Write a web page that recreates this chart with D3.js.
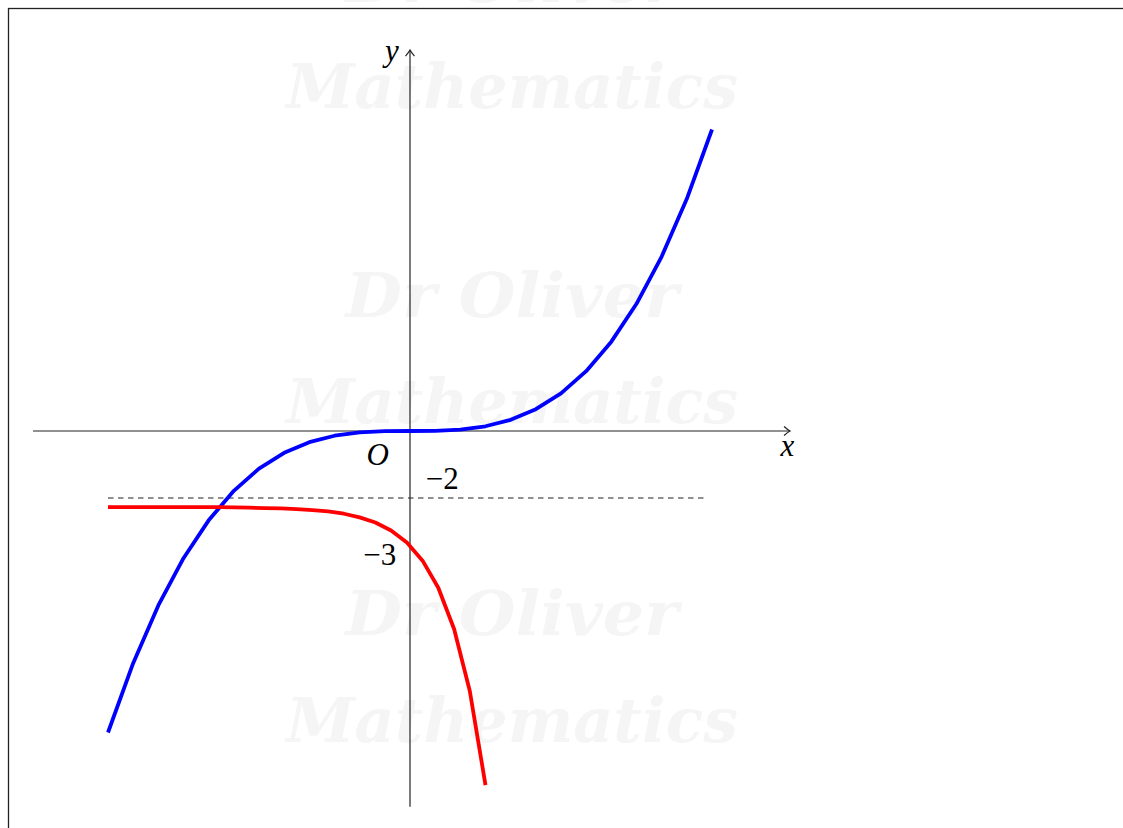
<!DOCTYPE html>
<html>
<head>
<meta charset="utf-8">
<script src="https://cdn.jsdelivr.net/npm/d3@7"></script>
<style>
  html, body { margin: 0; padding: 0; background: #ffffff; overflow: hidden; }
  svg { display: block; }
</style>
</head>
<body>
<script>
// ---- data ----
const blueX = [-3, -2.75, -2.5, -2.25, -2, -1.75, -1.5, -1.25, -1, -0.75, -0.5, -0.25, 0,
               0.25, 0.5, 0.75, 1, 1.25, 1.5, 1.75, 2, 2.25, 2.5, 2.75, 3];
const blueY = [-9, -6.932, -5.208, -3.797, -2.667, -1.786, -1.125, -0.651, -0.333, -0.141, -0.042, -0.005, 0,
               0.005, 0.042, 0.141, 0.333, 0.651, 1.125, 1.786, 2.667, 3.797, 5.208, 6.932, 9];
const redX = [-3, -2.844, -2.688, -2.531, -2.375, -2.219, -2.063, -1.906, -1.75, -1.594, -1.438, -1.281, -1.125,
              -0.969, -0.813, -0.656, -0.5, -0.344, -0.188, -0.031, 0.125, 0.281, 0.438, 0.594, 0.75];
const redY = [-2.27, -2.27, -2.27, -2.27, -2.27, -2.27, -2.27, -2.27, -2.28, -2.29, -2.30, -2.31, -2.33,
              -2.36, -2.40, -2.47, -2.58, -2.73, -2.97, -3.33, -3.87, -4.68, -5.91, -7.76, -10.57];
const dashedY = -2;
const dashedX = [-3, 2.95];
const xAxisExtent = [-3.745, 3.775];
const yAxisExtent = [-11.22, 11.37];
const labels = [
  { text: "y", x: -0.18, y: 11.04, italic: true },
  { text: "x", x: 3.75, y: -0.76, italic: true },
  { text: "O", x: -0.32, y: -1.01, italic: true },
  { text: "\u22122", x: 0.32, y: -1.73, italic: false },
  { text: "\u22123", x: -0.30, y: -4.00, italic: false }
];
const watermarkLines = ["Dr Oliver", "Mathematics", "Dr Oliver", "Mathematics", "Dr Oliver", "Mathematics"];

// ---- drawing ----
const W = 1123, H = 828;
const svg = d3.select("body").append("svg").attr("width", W).attr("height", H);

const x = d3.scaleLinear().domain([-3, 3]).range([108, 712]);
const y = d3.scaleLinear().domain([-9, 9]).range([732.5, 129.5]);

// watermark
const wmBase = [2, 108, 317, 423, 635, 742];
const wmWidth = { "Dr Oliver": 333, "Mathematics": 452 };
const wm = svg.append("g");
watermarkLines.forEach((t, i) => {
  wm.append("text")
    .attr("x", 512).attr("y", wmBase[i])
    .attr("text-anchor", "middle")
    .attr("font-family", "DejaVu Serif")
    .attr("font-style", "italic")
    .attr("font-weight", "bold")
    .attr("font-size", 62)
    .attr("textLength", wmWidth[t])
    .attr("lengthAdjust", "spacingAndGlyphs")
    .attr("fill", "#f5f5f5")
    .text(t);
});

// frame
svg.append("rect").attr("x", 8.5).attr("y", 8.5).attr("width", W + 20).attr("height", H + 20)
  .attr("fill", "none").attr("stroke", "#222").attr("stroke-width", 1.3);

// axes
const axisG = svg.append("g").attr("stroke", "#222").attr("stroke-width", 1.2).attr("fill", "none");
axisG.append("line")
  .attr("x1", x(xAxisExtent[0])).attr("x2", x(xAxisExtent[1]))
  .attr("y1", y(0)).attr("y2", y(0));
axisG.append("line")
  .attr("x1", x(0)).attr("x2", x(0))
  .attr("y1", y(yAxisExtent[0])).attr("y2", y(yAxisExtent[1]));
// arrow heads
const xe = x(xAxisExtent[1]), ye = y(0);
axisG.append("path").attr("d", `M${xe - 6},${ye - 4.5} Q${xe - 2},${ye - 1} ${xe},${ye} Q${xe - 2},${ye + 1} ${xe - 6},${ye + 4.5}`);
const yx = x(0), yt = y(yAxisExtent[1]);
axisG.append("path").attr("d", `M${yx - 4.5},${yt + 6} Q${yx - 1},${yt + 2} ${yx},${yt} Q${yx + 1},${yt + 2} ${yx + 4.5},${yt + 6}`);

// dashed asymptote
svg.append("line")
  .attr("x1", x(dashedX[0])).attr("x2", x(dashedX[1]))
  .attr("y1", y(dashedY)).attr("y2", y(dashedY))
  .attr("stroke", "#222").attr("stroke-width", 1.2)
  .attr("stroke-dasharray", "5.5,4.5");

const line = d3.line().x(d => x(d[0])).y(d => y(d[1]));

svg.append("path")
  .datum(blueX.map((v, i) => [v, blueY[i]]))
  .attr("d", line)
  .attr("fill", "none").attr("stroke", "#0000ff").attr("stroke-width", 3.8)
  .attr("stroke-linejoin", "round");

svg.append("path")
  .datum(redX.map((v, i) => [v, redY[i]]))
  .attr("d", line)
  .attr("fill", "none").attr("stroke", "#ff0000").attr("stroke-width", 3.8)
  .attr("stroke-linejoin", "round");

// labels
labels.forEach(l => {
  svg.append("text")
    .attr("x", x(l.x)).attr("y", y(l.y))
    .attr("text-anchor", "middle")
    .attr("font-family", "Liberation Serif, DejaVu Serif, serif")
    .attr("font-style", l.italic ? "italic" : "normal")
    .attr("font-size", 31)
    .attr("fill", "#000")
    .text(l.text);
});
</script>
</body>
</html>
